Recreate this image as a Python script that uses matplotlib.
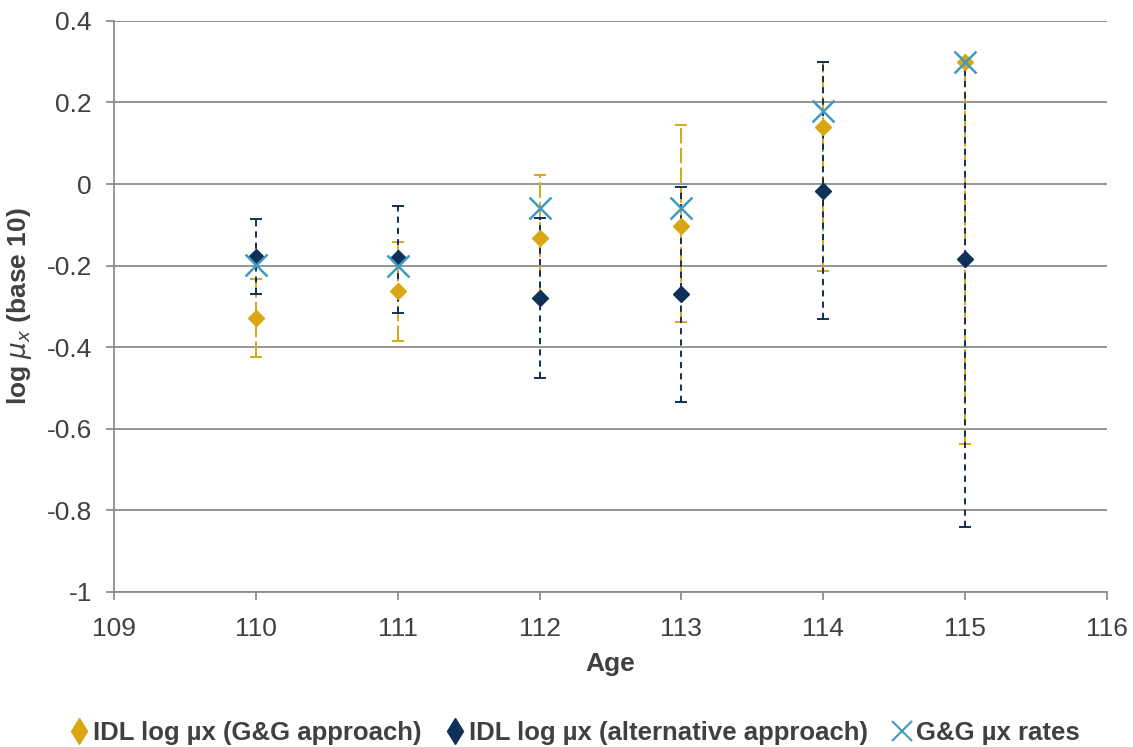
import matplotlib
matplotlib.use("Agg")
import matplotlib.pyplot as plt
from matplotlib.lines import Line2D
import numpy as np

plt.rcParams['font.family'] = ['Liberation Sans', 'DejaVu Sans']

ages = [110, 111, 112, 113, 114, 115]

# IDL log mu_x, G&G approach, with interval bounds
gg_idl = [-0.328, -0.262, -0.132, -0.103, 0.140, 0.300]
gg_low = [-0.424, -0.385, -0.276, -0.338, -0.213, -0.637]
gg_high = [-0.233, -0.142, 0.022, 0.145, 0.299, 0.300]

# IDL log mu_x, alternative approach, with interval bounds
alt_idl = [-0.179, -0.181, -0.279, -0.270, -0.017, -0.184]
alt_low = [-0.270, -0.316, -0.475, -0.535, -0.330, -0.840]
alt_high = [-0.086, -0.054, -0.083, -0.007, 0.299, 0.296]

# G&G mu_x rates
gg_rates = [-0.199, -0.201, -0.059, -0.059, 0.179, 0.300]

xticks = [109, 110, 111, 112, 113, 114, 115, 116]
yticks = [-1, -0.8, -0.6, -0.4, -0.2, 0, 0.2, 0.4]
ytick_labels = ['-1', '-0.8', '-0.6', '-0.4', '-0.2', '0', '0.2', '0.4']

GOLD = '#DAA712'
NAVY = '#0F3057'
BLUE = '#3E9BC2'
GRID = '#8C8C8C'
TEXT = '#404040'

fig = plt.figure(figsize=(11.33, 7.47), dpi=100)
ax = fig.add_axes([0.1006, 0.2075, 0.8764, 0.7645])

x = np.array(ages, dtype=float)

def draw_bars(vals, lo, hi, color, dashes, z):
    vals = np.array(vals)
    err = np.vstack([vals - np.array(lo), np.array(hi) - vals])
    eb = ax.errorbar(x, vals, yerr=err, fmt='none', ecolor=color,
                     elinewidth=1.4, capsize=4.3, capthick=1.4, zorder=z)
    for lc in eb[2]:
        lc.set_linestyle((0, dashes))

draw_bars(gg_idl, gg_low, gg_high, GOLD, (8, 2.2), 2)
draw_bars(alt_idl, alt_low, alt_high, NAVY, (3.2, 2.6), 3)

ax.plot(x, gg_idl, linestyle='none', marker='D', markersize=8,
        color=GOLD, zorder=4)
ax.plot(x, alt_idl, linestyle='none', marker='D', markersize=8,
        color=NAVY, zorder=5)
ax.plot(x, gg_rates, linestyle='none', marker='x', markersize=16,
        markeredgewidth=1.8, color=BLUE, zorder=6)

ax.set_xlim(109, 116)
ax.set_ylim(-1, 0.4)
ax.set_xticks(xticks)
ax.set_yticks(yticks)
ax.set_yticklabels(ytick_labels)

ax.grid(axis='y', color=GRID, linewidth=1.3, zorder=0)
ax.set_axisbelow(True)
for s in ['top', 'right']:
    ax.spines[s].set_visible(False)
for s in ['left', 'bottom']:
    ax.spines[s].set_color(GRID)
    ax.spines[s].set_linewidth(1.3)

ax.tick_params(axis='both', colors=GRID, labelcolor=TEXT, labelsize=19,
               length=6, width=1.3, direction='out')
ax.tick_params(axis='y', pad=10)
ax.tick_params(axis='x', pad=12)

ax.set_xlabel('Age', fontsize=19, fontweight='bold', color=TEXT, labelpad=8)
ax.set_ylabel(r'log $\boldsymbol{\mu_x}$ (base 10)', fontsize=19,
              fontweight='bold', color=TEXT, labelpad=9)

handles = [
    Line2D([], [], linestyle='none', marker='d', markersize=13, color=GOLD),
    Line2D([], [], linestyle='none', marker='d', markersize=13, color=NAVY),
    Line2D([], [], linestyle='none', marker='x', markersize=14,
           markeredgewidth=1.5, color=BLUE),
]
labels = ['IDL log µx (G&G approach)', 'IDL log µx (alternative approach)',
          'G&G µx rates']
leg = fig.legend(handles, labels, loc='center', bbox_to_anchor=(0.508, 0.019),
                 ncol=3, frameon=False, handlelength=0.6, handletextpad=0.25,
                 columnspacing=1.0,
                 prop={'size': 18.5, 'weight': 'bold'})
for t in leg.get_texts():
    t.set_color(TEXT)

fig.savefig('out.png', dpi=100)
